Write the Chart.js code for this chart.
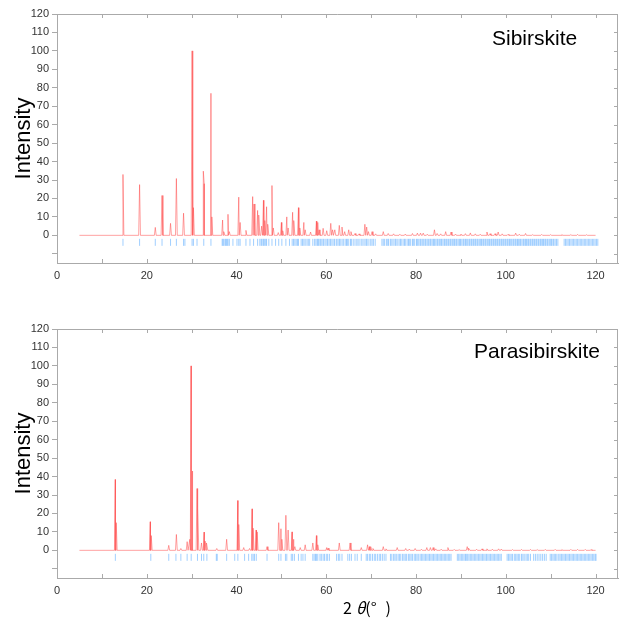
<!DOCTYPE html>
<html>
<head>
<meta charset="utf-8">
<script src="https://cdn.jsdelivr.net/npm/chart.js@4.4.1/dist/chart.umd.min.js"></script>
<style>
    body { margin: 0; background: #fff; }
    #wrap { position: relative; width: 624px; height: 618px; }
    canvas { position: absolute; left: 0; }
    .name { position: absolute; font-family: 'Liberation Sans', Arial, sans-serif; font-size: 21px; line-height: 21px; color: #000; }
    #xlab { position: absolute; left: 343px; top: 599px; font-family: 'Noto Sans CJK JP', sans-serif; font-size: 16px; line-height: 16px; color: #000; white-space: pre; }
    #xlab .th { margin-left: 4px; font-style: italic; }
    #xlab .cl { margin-left: 9px; }
</style>
</head>
<body>
<div id="wrap">
    <canvas id="topChart" width="624" height="300" style="top:0px"></canvas>
    <canvas id="bottomChart" width="624" height="318" style="top:300px"></canvas>
    <div class="name" style="left:492px; top:27px">Sibirskite</div>
    <div class="name" style="left:474px; top:340px">Parasibirskite</div>
    <div id="xlab">2<span class="th">θ</span>(°<span class="cl">)</span></div>
</div>
<script>
// peak positions (2theta, deg) and relative intensities
let sibPeakPos = [14.7, 18.4, 21.9, 23.4, 25.3, 26.6, 28.2, 30.1, 30.4, 32.6, 32.8, 34.3, 34.5,
    36.9, 37.2, 38.1, 38.4, 40.5, 40.8, 42.1, 43.6, 43.9, 44.7, 45.0, 45.6, 46.0, 46.3, 46.7, 47.0,
    47.9, 48.2, 49.3, 50.0, 50.3, 51.2, 51.5, 52.5, 52.8, 53.8, 54.1, 55.0, 55.3, 56.5, 57.8, 58.1,
    58.4, 59.3, 60.1, 61.0, 61.4, 61.9, 62.9, 63.5, 64.1, 65.0, 65.5, 66.4, 67.3, 68.6, 69.0, 69.4,
    70.2, 71.0, 72.7, 73.8, 75.0, 76.4, 77.6, 79.2, 80.3, 81.0, 81.6, 82.5, 84.1, 84.7, 85.5, 86.6,
    87.8, 88.8, 90.0, 91.0, 92.1, 93.2, 94.3, 95.8, 96.5, 97.6, 98.3, 99.2, 100.5, 102.2, 103.0,
    104.4, 106.0, 108.0, 110.0, 112.5, 114.5, 116.0, 118.0];
let sibPeakInt = [33, 27.5, 4.3, 21.6, 6.5, 30.8, 12, 100, 15, 34.8, 28, 77, 10,
    8.3, 2, 11.4, 2, 20.7, 7, 2.7, 21, 17, 13.5, 11, 5, 19, 8, 15.5, 6,
    27, 4, 1.5, 7, 2.5, 10, 4, 12.5, 8, 15, 4, 7, 3, 1.8, 7.7, 7,
    3, 3.8, 2.5, 6.5, 3, 3, 5.4, 4.5, 2, 3, 2, 1, 0.8, 6, 4.5, 2,
    2, 0.8, 2, 1, 0.8, 0.6, 0.7, 1, 1.2, 1.2, 1.2, 0.6, 3, 1, 0.8, 2,
    1.8, 0.7, 0.7, 0.9, 1.3, 0.8, 0.6, 1.8, 0.9, 0.9, 1.8, 0.8, 0.5, 1.2, 0.6,
    1, 0.4, 0.5, 0.4, 0.4, 0.4, 0.5, 0.3];

let parPeakPos = [13.0, 13.2, 20.8, 21.0, 24.9, 26.6, 27.6, 29.0, 29.6, 29.9, 30.1, 31.2, 31.4,
    32.2, 32.8, 33.0, 33.4, 35.6, 37.8, 40.3, 40.5, 41.6, 42.9, 43.5, 43.7, 44.4, 44.6, 46.8,
    49.4, 49.9, 50.1, 51.0, 51.5, 52.4, 52.6, 53.0, 54.2, 55.3, 57.0, 57.8, 58.1, 60.1, 60.4,
    62.9, 65.3, 67.8, 69.2, 69.6, 69.9, 70.4, 72.7, 73.3, 75.8, 77.7, 78.5, 79.8, 81.2, 82.4,
    83.2, 83.8, 84.4, 85.6, 87.1, 88.5, 89.6, 91.4, 91.8, 93.5, 94.7, 95.8, 97.0, 98.4, 99.0,
    101.5, 103.5, 105.5, 107.0, 108.8, 111.0, 112.5, 114.5, 116.0, 117.7, 119.0];
let parPeakInt = [38.4, 15, 15.5, 8, 2.7, 8.6, 1, 4.7, 6, 100, 43, 33.5, 23,
    4, 9.9, 5, 4, 1, 6, 27, 14, 1.5, 1, 22.5, 12, 11, 10, 2,
    15, 11.7, 6, 19, 11, 10, 6, 2, 1.5, 3, 4, 8, 3, 1.5, 1.2,
    4, 4, 1.5, 3, 2, 2, 1, 2, 0.8, 1.5, 1, 0.7, 1, 0.6, 1.5,
    1.5, 1.5, 0.8, 0.6, 1.5, 0.5, 0.4, 2, 1.2, 0.6, 0.8, 0.8, 0.6, 0.8, 0.7,
    0.4, 0.5, 0.5, 0.4, 0.5, 0.5, 0.4, 0.5, 0.5, 0.5, 0.4];

// reflection positions (blue bars)
let sibRefl = [14.7, 18.4, 21.9, 23.4, 25.3, 26.6, 28.2, 28.5, 30.1, 30.4, 31.2, 32.7, 34.3,
    36.8, 37.0, 37.2, 37.5, 37.7, 37.9, 38.1, 38.4, 39.2, 40.1, 40.5, 40.8, 42.1, 43.0, 43.8,
    44.7, 45.2, 45.5, 45.7, 46.0, 46.2, 46.5, 46.7, 47.2, 47.9, 48.7, 49.4, 50.1, 51.0, 51.8,
    52.4, 52.7, 53.0, 53.3, 53.6, 53.8, 54.4, 54.7, 55.0, 55.3, 55.7, 56.0, 56.3, 57.0, 57.4,
    57.7, 58.0, 58.2, 58.4, 58.7, 59.0, 59.3, 59.5, 59.9, 60.2, 60.4, 60.8, 61.0, 61.3, 61.7,
    61.9, 62.3, 62.6, 62.9, 63.1, 63.5, 63.8, 64.2, 64.5, 64.7, 65.0, 65.4, 65.6, 66.0, 66.4,
    66.8, 67.1, 67.5, 67.9, 68.2, 68.6, 68.9, 69.1, 69.5, 69.9, 70.2, 70.5, 70.9,
    72.4, 72.7, 73.0, 73.4, 73.7, 73.9, 74.3, 74.6, 74.9, 75.3, 75.5, 75.8, 76.2, 76.5, 76.7,
    77.1, 77.4, 77.6, 78.0, 78.3, 78.5, 78.8, 79.2, 79.4, 79.7, 80.1, 80.3, 80.6, 80.9, 81.1,
    81.4, 81.7, 82.0, 82.2, 82.5, 82.8, 83.1, 83.3, 83.6, 83.9, 84.1, 84.4, 84.7, 84.9, 85.2,
    85.5, 85.7, 86.0, 86.3, 86.5, 86.8, 87.1, 87.3, 87.6, 87.8, 88.1, 88.4, 88.6, 88.9, 89.1,
    89.4, 89.7, 89.9, 90.2, 90.5, 90.7, 91.0, 91.2, 91.5, 91.8, 92.0, 92.3, 92.5, 92.8, 93.1,
    93.3, 93.6, 93.8, 94.1, 94.4, 94.6, 94.9, 95.1, 95.4, 95.6, 95.9, 96.2, 96.4, 96.7, 96.9,
    97.2, 97.4, 97.7, 98.0, 98.2, 98.5, 98.7, 99.0, 99.2, 99.5, 99.8, 100.0, 100.3, 100.5, 100.8,
    101.0, 101.3, 101.6, 101.8, 102.1, 102.3, 102.6, 102.8, 103.1, 103.3, 103.6, 103.9, 104.1,
    104.4, 104.6, 104.9, 105.1, 105.4, 105.6, 105.9, 106.1, 106.4, 106.7, 106.9, 107.2, 107.4,
    107.7, 107.9, 108.2, 108.4, 108.7, 108.9, 109.2, 109.4, 109.7, 110.0, 110.2, 110.5, 110.7,
    111.0, 111.3, 111.6, 113.0, 113.3, 113.6, 113.9, 114.2, 114.5, 114.8, 115.1, 115.4, 115.7,
    116.0, 116.3, 116.6, 116.9, 117.2, 117.5, 117.8, 118.1, 118.4, 118.7, 119.0, 119.3, 119.6,
    119.9, 120.2, 120.5];

let parRefl = [13.0, 20.9, 24.9, 26.5, 27.6, 29.0, 29.9, 31.3, 32.2, 32.7, 33.4, 35.5, 35.7,
    37.8, 39.6, 40.3, 41.8, 42.7, 43.4, 43.7, 44.0, 44.4, 46.8, 49.4, 49.9, 50.9, 51.2, 52.2,
    52.5, 52.9, 53.8, 54.4, 54.8, 55.3, 57.0, 57.3, 57.6, 57.8, 58.1, 58.6, 58.9, 59.3, 59.6,
    60.0, 60.3, 60.7, 62.3, 62.7, 63.0, 63.5, 64.8, 65.2, 65.6, 66.4, 66.9, 67.8, 68.9, 69.2,
    69.6, 69.9, 70.3, 70.7, 71.0, 71.4, 71.8, 72.1, 72.5, 72.9, 73.3, 74.3, 74.6, 75.0, 75.3,
    75.6, 76.0, 76.3, 76.6, 77.0, 77.3, 77.6, 77.9, 78.3, 78.6, 78.9, 79.2, 79.6, 79.9, 80.2,
    80.5, 80.9, 81.2, 81.5, 81.8, 82.1, 82.4, 82.7, 83.0, 83.3, 83.6, 83.9, 84.2, 84.5, 84.8,
    85.1, 85.4, 85.7, 86.0, 86.3, 86.6, 86.9, 87.2, 87.5, 87.8, 89.2, 89.5, 89.8, 90.1, 90.4,
    90.7, 91.0, 91.2, 91.5, 91.8, 92.1, 92.4, 92.7, 93.0, 93.3, 93.6, 93.9, 94.2, 94.5, 94.8,
    95.1, 95.4, 95.7, 96.0, 96.3, 96.6, 96.9, 97.2, 97.5, 97.8, 98.1, 98.4, 98.7, 99.0, 100.3,
    100.6, 100.9, 101.2, 101.5, 101.9, 102.2, 102.5, 102.8, 103.1, 103.5, 103.8, 104.1, 104.5,
    104.8, 105.1, 105.5, 106.2, 106.6, 107.0, 107.4, 107.8, 108.2, 108.6, 109.0, 109.9, 110.2,
    110.5, 110.8, 111.1, 111.4, 111.8, 112.1, 112.4, 112.7, 113.0, 113.3, 113.6, 113.9, 114.2,
    114.5, 114.8, 115.1, 115.4, 115.7, 116.0, 116.3, 116.6, 116.9, 117.2, 117.5, 117.8, 118.1,
    118.4, 118.7, 119.0, 119.3, 119.6, 119.9, 120.1];

let scanStart = 5;
let scanEnd = 120;
let reflLevel = -3.8;

let frameColor = '#aaaaaa';
Chart.defaults.font.family = "'Liberation Sans', Arial, sans-serif";
Chart.defaults.color = '#333';

function buildTrace(pos, inten) {
    let pts = [{x: scanStart, y: 0}];
    for (let i = 0; i < pos.length; i++) {
        pts.push({x: pos[i] - 0.2, y: 0});
        pts.push({x: pos[i], y: inten[i]});
        pts.push({x: pos[i] + 0.2, y: 0});
    }
    pts.push({x: scanEnd, y: 0});
    pts.sort((a, b) => a.x - b.x);
    return pts;
}

// top/right frame lines and inward tick marks
let frameTicks = {
    id: 'frameTicks',
    afterDraw(chart) {
        let ctx = chart.ctx;
        let a = chart.chartArea;
        let sx = chart.scales.x;
        let sy = chart.scales.y;
        ctx.save();
        ctx.strokeStyle = frameColor;
        ctx.lineWidth = 1;
        ctx.beginPath();
        ctx.moveTo(a.left, a.top + 0.5);
        ctx.lineTo(a.right - 0.5, a.top + 0.5);
        ctx.lineTo(a.right - 0.5, a.bottom);
        sx.ticks.forEach(t => {
            let px = Math.round(sx.getPixelForValue(t.value)) + 0.5;
            ctx.moveTo(px, a.bottom);
            ctx.lineTo(px, a.bottom - 4);
            ctx.moveTo(px, a.top);
            ctx.lineTo(px, a.top + 4);
        });
        sy.ticks.forEach(t => {
            let py = Math.round(sy.getPixelForValue(t.value)) + 0.5;
            ctx.moveTo(a.right, py);
            ctx.lineTo(a.right - 4, py);
        });
        ctx.stroke();
        ctx.restore();
    }
};

function drawPattern(canvas, pos, inten, refl, padTop, xHeight) {
    let datasets = [
        {
            type: 'line',
            data: buildTrace(pos, inten),
            borderColor: 'rgba(255,70,70,0.5)',
            borderWidth: 1,
            pointRadius: 0,
            fill: false,
            tension: 0
        },
        {
            type: 'line',
            data: refl.map(v => ({x: v, y: reflLevel})),
            showLine: false,
            pointStyle: 'line',
            pointRotation: 90,
            pointRadius: 3.5,
            pointBorderWidth: 1,
            pointBorderColor: 'rgba(30,140,255,0.42)',
            pointBackgroundColor: 'rgba(30,140,255,0.42)'
        }
    ];

    let configAxisX = {
        type: 'linear',
        min: 0,
        max: 125,
        ticks: {
            stepSize: 10,
            includeBounds: false,
            autoSkip: false,
            maxRotation: 0,
            padding: 6,
            font: { size: 11 },
            callback: function(value) {
                return value % 20 === 0 ? value : '';
            }
        },
        grid: {
            drawOnChartArea: false,
            drawTicks: false,
            color: frameColor
        },
        border: { color: frameColor },
        afterFit: function(scale) { scale.height = xHeight; }
    };

    let configAxisY = {
        type: 'linear',
        min: -15,
        max: 120,
        ticks: {
            stepSize: 10,
            includeBounds: false,
            padding: 3,
            font: { size: 11 },
            callback: function(value) {
                return value < 0 ? '' : value;
            }
        },
        grid: {
            drawOnChartArea: false,
            tickLength: 5,
            color: frameColor
        },
        border: { color: frameColor },
        title: {
            display: true,
            text: 'Intensity',
            color: '#000',
            font: { size: 22 },
            padding: { top: 11, bottom: 0 }
        },
        afterFit: function(scale) { scale.width = 57; }
    };

    return new Chart(canvas, {
        type: 'line',
        data: { datasets: datasets },
        options: {
            responsive: false,
            animation: false,
            events: [],
            layout: { padding: { top: padTop, right: 6, left: 0, bottom: 0 } },
            scales: { x: configAxisX, y: configAxisY },
            plugins: {
                legend: { display: false },
                tooltip: { enabled: false }
            }
        },
        plugins: [frameTicks]
    });
}

drawPattern(document.getElementById('topChart'), sibPeakPos, sibPeakInt, sibRefl, 14, 37);
drawPattern(document.getElementById('bottomChart'), parPeakPos, parPeakInt, parRefl, 29, 40);
</script>
</body>
</html>
